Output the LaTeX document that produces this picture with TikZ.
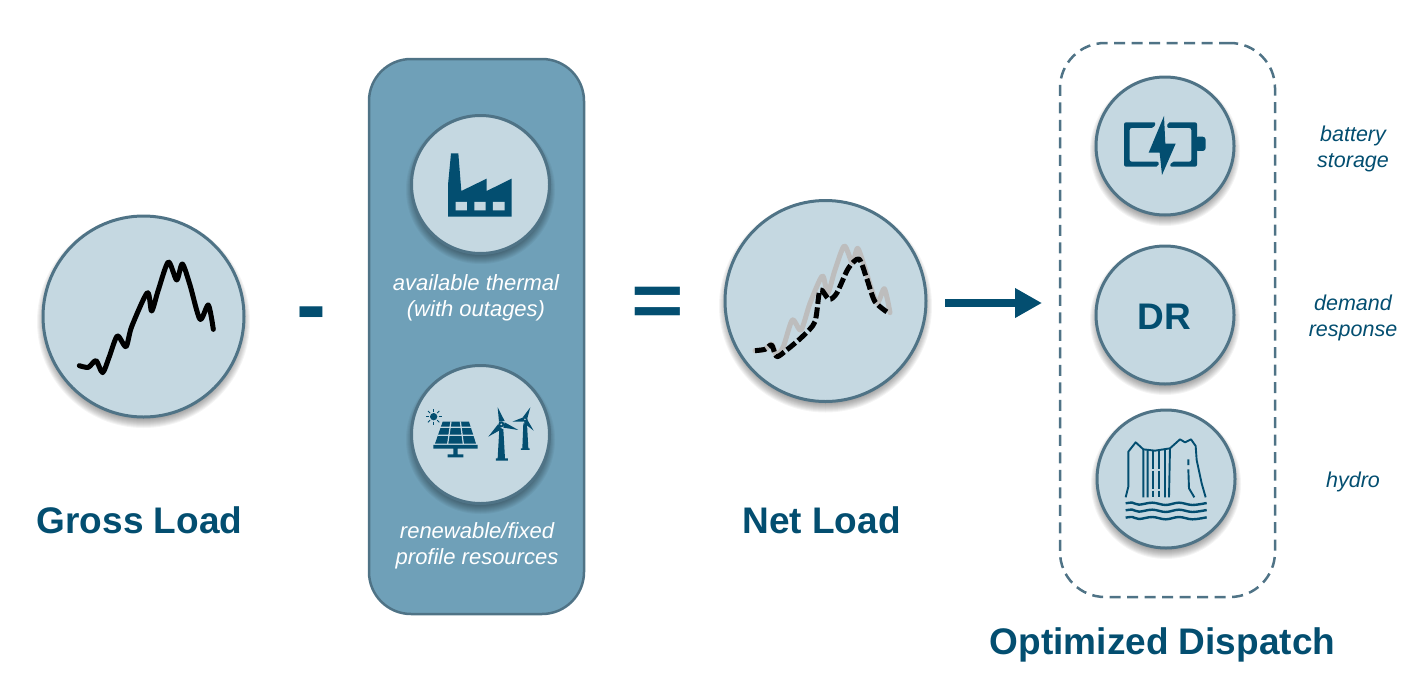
\documentclass[tikz,border=0pt]{standalone}
\usepackage{fontspec}
\setmainfont{Liberation Sans}
\usetikzlibrary{arrows.meta}
\definecolor{dk}{HTML}{034E70}
\definecolor{cfill}{HTML}{C5D8E1}
\definecolor{bord}{HTML}{4F7386}
\definecolor{panel}{HTML}{6FA0B8}
\definecolor{greyc}{HTML}{BDBDBD}
\newcommand{\softshadow}[3]{%
  \foreach \dr in {6,5,...,-4}{\fill[black,opacity=.045] (#1,#2+5) circle[radius=#3+\dr];}}
\tikzset{
  disc/.style={circle,draw=bord,fill=cfill,line width=3pt,inner sep=0pt,minimum size=#1},
  bigtitle/.style={text=dk,font=\bfseries\fontsize{37}{37}\selectfont,inner sep=0pt},
  sidelabel/.style={text=dk,font=\itshape\fontsize{21.5}{26}\selectfont,align=center,inner sep=0pt},
  panellabel/.style={text=white,font=\itshape\fontsize{22}{26}\selectfont,align=center,inner sep=0pt},
  opsign/.style={text=dk,font=\bfseries\fontsize{90}{90}\selectfont,inner sep=0pt},
  curve/.style={line width=5pt,line cap=round,line join=round},
  thin hydro/.style={draw=dk,line width=1.9pt,line join=round,line cap=butt},
  wave/.style={draw=dk,line width=2.4pt},
  icon/.style={fill=dk,draw=none}
}
\begin{document}
\begin{tikzpicture}[x=1pt,y=-1pt]
\useasboundingbox (0,0) rectangle (1408,683);
% panels
\node[draw=bord,fill=panel,line width=2.5pt,rounded corners=42pt,minimum width=215pt,minimum height=555pt,inner sep=0pt] (res) at (476.5,336.5) {};
\node[draw=bord,line width=2.5pt,dash pattern=on 11pt off 6.5pt,rounded corners=45pt,minimum width=215pt,minimum height=554pt,inner sep=0pt] (disp) at (1167.5,320) {};
% gross
\softshadow{143.5}{316.5}{100.5}
\node[disc=201pt] (gross) at (143.5,316.5) {};
\begin{scope}[shift={(30,200)},x=.3333pt,y=-.3333pt]
\draw[curve,black] plot[smooth,tension=.45] coordinates {(148,497)(175,502)(198,482)(218,518)(238,470)(262,408)(288,440)(305,380)(352,278)(365,333)(385,270)(415,186)(440,240)(457,192)(480,255)(510,358)(535,315)(550,388)};
\end{scope}
% thermal
\softshadow{480.5}{184.5}{68.5}
\node[disc=138pt] (thermal) at (480.5,184.5) {};
\begin{scope}[shift={(400,105)},x=.3333pt,y=-.3333pt]
\fill[icon] (153,145)--(175,145)--(184,258)--(260,221)--(260,258)--(335,221)--(335,335)--(144,335)--(144,240)--cycle;
\fill[cfill] (167,291) rectangle (201,316) (223,291) rectangle (257,316) (279,291) rectangle (314,316);
\end{scope}
% renewable
\softshadow{480.5}{434.5}{68.5}
\node[disc=138pt] (renew) at (480.5,434.5) {};
\begin{scope}[shift={(400,355)},x=.3333pt,y=-.3333pt]
\fill[icon] (101,185) circle[radius=11];
\foreach \a in {0,45,...,315}
  \draw[dk,line width=.9pt] (101,185)++(\a:15) -- ++(\a:9);
\fill[icon] (128,200)--(207,200)--(228,266)--(105,266)--cycle;
\draw[cfill,line width=1.2pt] (120,217)--(214,217) (113,241)--(222,241) (153,199)--(143,267) (181,199)--(190,267);
\fill[icon] (100,270) rectangle (233,281) (160,281) rectangle (173,298) (143,298) rectangle (190,307);
% big turbine
\fill[icon] (298,222)--(310,222)--(315,310)--(293,310)--cycle (288,310) rectangle (324,317);
\fill[icon] (297,200)--(293,157)--(314,198)--cycle (294,208)--(265,245)--(306,222)--cycle (314,202)--(355,225)--(310,218)--cycle;
\fill[icon] (304,208) circle[radius=9];
\fill[cfill] (304,208) circle[radius=3];
% small turbine
\fill[icon] (370,205)--(381,205)--(385,280)--(367,280)--cycle (363,280) rectangle (389,285);
\fill[icon] (369,186)--(391,157)--(382,190)--cycle (370,187)--(337,200)--(370,200)--cycle (382,194)--(401,227)--(372,204)--cycle;
\fill[icon] (375,193) circle[radius=8];
\fill[cfill] (375,193) circle[radius=2.5];
\end{scope}
% net
\softshadow{825.5}{301}{100.5}
\node[disc=201pt] (net) at (825.5,301) {};
\begin{scope}[shift={(715,190)},x=.3333pt,y=-.3333pt]
\draw[curve,greyc] plot[smooth,tension=.45] coordinates {(120,482)(150,478)(170,462)(185,495)(205,470)(232,390)(258,420)(285,340)(322,258)(338,310)(360,240)(388,168)(412,218)(428,175)(450,235)(485,338)(508,296)(525,368)};
\draw[curve,black,line cap=butt,dash pattern=on 11pt off 3.5pt] plot[smooth,tension=.45] coordinates {(120,482)(150,478)(170,465)(185,500)(215,480)(262,440)(300,395)(315,300)(342,328)(365,310)(400,235)(432,207)(455,265)(480,335)(522,370)};
\end{scope}
% battery
\softshadow{1165}{146}{69}
\node[disc=138pt] (batt) at (1165,146) {};
\begin{scope}[shift={(1085,65)},x=.3333pt,y=-.3333pt]
\fill[icon,rounded corners=2pt] (213,172)--(117,172)--(117,305)--(220,305)--(222,290)--(134,290)--(134,189)--(206,189)--cycle;
\fill[icon,rounded corners=2pt] (248,172)--(336,172)--(336,305)--(254,305)--(260,290)--(319,290)--(319,189)--(246,189)--cycle;
\fill[icon] (237,153)--(191,263)--(224,263)--(231,330)--(272,236)--(241,236)--cycle;
\fill[icon,rounded corners=3pt] (330,215)--(362,215)--(362,258)--(330,258)--cycle;
\end{scope}
% DR
\softshadow{1165}{315}{69}
\node[disc=138pt] (dr) at (1165,315) {};
\node[bigtitle] (drt) at (1164.5,317) {DR};
% hydro
\softshadow{1166}{479}{69}
\node[disc=138pt] (hydro) at (1166,479) {};
\begin{scope}[shift={(1085,410)},x=.3333pt,y=-.3333pt]
\draw[thin hydro] (122,262)--(130,230)--(130,125)--(152,97)--(175,118)--(210,122)--(255,115)--(285,88)--(300,97)--(318,88)--(332,108)--(335,150)--(350,220)--(362,262);
\draw[thin hydro] (175,118)--(175,262) (188,120)--(188,262) (240,120)--(240,262) (255,115)--(252,262) (310,148)--(310,165) (310,178)--(312,235)--(328,262);
\draw[thin hydro,dash pattern=on 18pt off 2pt] (205,122)--(205,262) (222,122)--(222,262);
\foreach \y in {282,303,325}
  \draw[wave] plot[smooth,tension=.6] coordinates {(122,\y-2)(142,\y-4)(162,\y+2)(202,\y-4)(242,\y+3)(282,\y-4)(322,\y+3)(365,\y-3)};
\end{scope}
% operators
\node[opsign] (minus) at (311,321) {-};
\node[opsign] (equals) at (658,307) {\scalebox{1}[.84]{=}};
\coordinate (a0) at (945,303);
\coordinate (a1) at (1042,303);
\draw[dk,line width=8pt,-{Triangle[length=27pt,width=28pt]}] (a0) -- (a1);
% text
\node[bigtitle] (t1) at (139.5,520) {Gross Load};
\node[bigtitle] (t2) at (821.5,520) {Net Load};
\node[bigtitle] (t3) at (1162.5,645) {Optimized Dispatch};
\node[panellabel] (l1) at (476,298) {available thermal\\(with outages)};
\node[panellabel] (l2) at (477,546) {renewable/fixed\\profile resources};
\node[sidelabel] (s1) at (1353,149) {battery\\storage};
\node[sidelabel] (s2) at (1353,318) {demand\\response};
\node[sidelabel] (s3) at (1353,482) {hydro};
\end{tikzpicture}
\end{document}
